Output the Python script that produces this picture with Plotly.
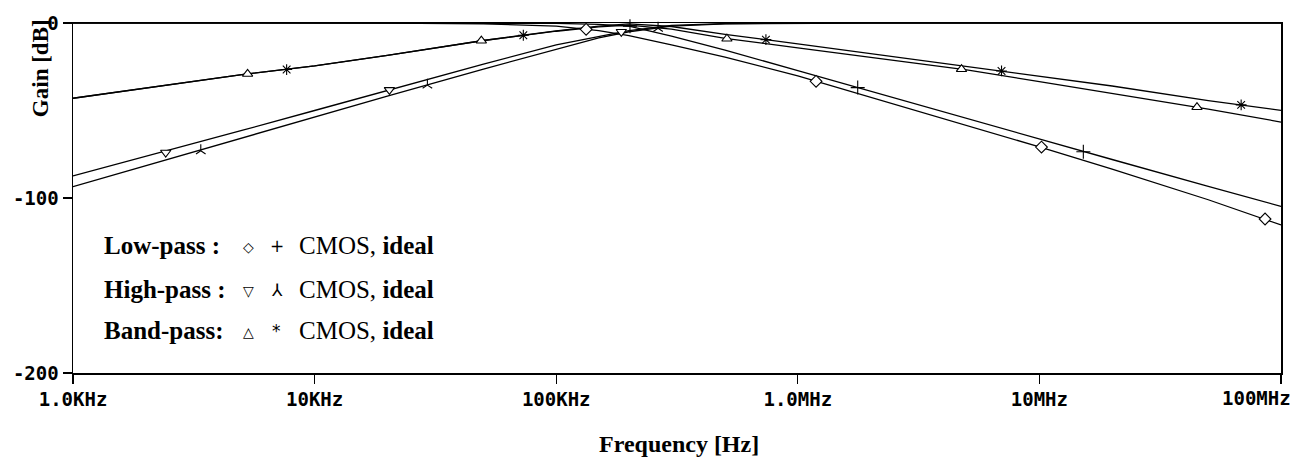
import plotly.graph_objects as go

# ---------------- data ----------------
freq = [1e3, 2e3, 5e3, 1e4, 2e4, 5e4, 1e5, 1.5e5, 2e5, 3e5, 5e5,
        1e6, 2e6, 5e6, 1e7, 2e7, 5e7, 1e8]

lp_cmos = [0, 0, 0, -0.05, -0.1, -0.5, -1.8, -4.4, -7.2, -12.5, -19.5,
           -30.2, -42.3, -58.5, -70.8, -83.5, -101.0, -115.4]
lp_ideal = [0, 0, 0, 0, 0, -0.05, -0.2, -0.8, -1.8, -7.5, -15.5,
            -27.2, -39.0, -54.6, -66.3, -78.0, -93.3, -104.8]
hp_cmos = [-87.4, -76.3, -61.4, -50.0, -38.5, -23.5, -12.5, -7.5, -4.3, -1.3, -0.3,
           -0.05, 0, 0, 0, 0, 0, 0]
hp_ideal = [-93.5, -81.5, -65.8, -53.8, -41.8, -26.3, -14.8, -8.5, -5.0, -1.8, -0.5,
            -0.1, 0, 0, 0, 0, 0, 0]
bp_cmos = [-43.0, -37.3, -29.5, -24.5, -18.5, -10.0, -4.7, -2.2, -1.2, -3.5, -8.8,
           -14.2, -19.8, -26.8, -33.5, -40.2, -49.2, -56.6]
bp_ideal = [-43.0, -37.3, -29.5, -24.5, -18.5, -10.0, -4.5, -1.8, -0.5, -2.0, -6.5,
            -11.9, -17.5, -24.8, -30.3, -36.0, -44.3, -49.9]

# marker positions along each curve
lp_cmos_mk_f = [133e3, 1.19e6, 10.2e6, 85.9e6]
lp_cmos_mk_g = [-3.6, -33.3, -70.9, -112.0]
lp_ideal_mk_f = [202e3, 1.77e6, 15.2e6]
lp_ideal_mk_g = [-1.8, -36.9, -73.6]
hp_cmos_mk_f = [2.42e3, 20.4e3, 186e3]
hp_cmos_mk_g = [-74.0, -38.2, -5.0]
hp_ideal_mk_f = [3.38e3, 29.3e3, 264e3]
hp_ideal_mk_g = [-73.0, -35.5, -3.0]
bp_cmos_mk_f = [5.28e3, 49e3, 509e3, 4.76e6, 44.9e6]
bp_cmos_mk_g = [-29.1, -10.1, -9.0, -26.4, -48.1]
bp_ideal_mk_f = [7.66e3, 73.1e3, 738e3, 6.97e6, 68.4e6]
bp_ideal_mk_g = [-26.6, -7.0, -9.5, -27.4, -46.8]

x_tickvals = [1e3, 1e4, 1e5, 1e6, 1e7, 1e8]
x_ticktext = ["1.0KHz", "10KHz", "100KHz", "1.0MHz", "10MHz", "100MHz"]
y_tickvals = [-200, -100, 0]
y_ticktext = ["-200", "-100", "0"]

legend_rows = [("Low-pass :", "\u25c7", "+"),
               ("High-pass :", "\u25bd", "\u2144"),
               ("Band-pass:", "\u25b3", "*")]
legend_tail = "CMOS, <b>ideal</b>"

# ---------------- figure ----------------
fig = go.Figure()

curves = [lp_cmos, lp_ideal, hp_cmos, hp_ideal, bp_cmos, bp_ideal]
for c in curves:
    fig.add_trace(go.Scatter(x=freq, y=c, mode="lines",
                             line=dict(color="black", width=1.3),
                             hoverinfo="skip"))

markers = [
    (lp_cmos_mk_f, lp_cmos_mk_g, "diamond", 9),
    (lp_ideal_mk_f, lp_ideal_mk_g, "cross-thin", 10),
    (hp_cmos_mk_f, hp_cmos_mk_g, "triangle-down", 9),
    (hp_ideal_mk_f, hp_ideal_mk_g, "y-up", 8),
    (bp_cmos_mk_f, bp_cmos_mk_g, "triangle-up", 9),
    (bp_ideal_mk_f, bp_ideal_mk_g, "asterisk", 9),
]
for f, g, sym, sz in markers:
    fig.add_trace(go.Scatter(x=f, y=g, mode="markers",
                             marker=dict(symbol=sym, size=sz, color="white",
                                         line=dict(color="black", width=1.1)),
                             hoverinfo="skip", cliponaxis=False))

L, R, T, B = 73, 1282, 16, 373
W, H = R - L, B - T


def px(x):
    return (x - L) / W


def py(y):
    return (B - y) / H


serif = "Liberation Serif"
ann = []
row_y = [243, 288, 330]
for (label, s1, s2), yy in zip(legend_rows, row_y):
    ann.append(dict(text="<b>" + label + "</b>", x=px(102), y=py(yy), xanchor="left",
                    yanchor="middle", font=dict(family=serif, size=25, color="black")))
    ann.append(dict(text=s1, x=px(249), y=py(yy + 1), xanchor="center", yanchor="middle",
                    font=dict(family="DejaVu Sans", size=14, color="black")))
    ann.append(dict(text=s2, x=px(277), y=py(yy), xanchor="center", yanchor="middle",
                    font=dict(family="DejaVu Sans", size=17, color="black")))
    ann.append(dict(text=legend_tail, x=px(297), y=py(yy), xanchor="left",
                    yanchor="middle", font=dict(family=serif, size=25, color="black")))

ann.append(dict(text="<b>Gain [dB]</b>", textangle=-90, x=px(40), y=py(62),
                xanchor="center", yanchor="middle",
                font=dict(family=serif, size=23, color="black")))
ann.append(dict(text="<b>Frequency [Hz]</b>", x=px(680), y=py(445),
                xanchor="center", yanchor="middle",
                font=dict(family=serif, size=24, color="black")))
ann.append(dict(text=x_ticktext[-1], x=px(1294), y=py(399),
                xanchor="right", yanchor="middle",
                font=dict(family="DejaVu Sans Mono", size=19, color="black", weight="bold")))

for a in ann:
    a.update(xref="paper", yref="paper", showarrow=False)

tick_font = dict(family="DejaVu Sans Mono", size=19, color="black", weight="bold")
fig.update_layout(
    width=1295, height=465,
    margin=dict(l=L, r=1295 - R, t=T, b=465 - B),
    paper_bgcolor="white", plot_bgcolor="white",
    showlegend=False,
    annotations=ann,
    xaxis=dict(type="log", range=[3, 8], showgrid=False, zeroline=False,
               showline=True, linecolor="black", linewidth=1.5, mirror=True,
               ticks="outside", ticklen=9, tickwidth=1.3, tickcolor="black",
               tickvals=x_tickvals, ticktext=x_ticktext[:-1] + [""],
               tickfont=tick_font),
    yaxis=dict(range=[-200, 0], showgrid=False, zeroline=False,
               showline=True, linecolor="black", linewidth=1.5, mirror=True,
               ticks="outside", ticklen=9, tickwidth=1.3, tickcolor="black",
               tickvals=y_tickvals, ticktext=y_ticktext,
               tickfont=tick_font),
)

fig.write_html("out.html",
               config={"displayModeBar": False, "staticPlot": True},
               post_script="document.body.style.margin='0';"
                           "document.body.style.padding='0';"
                           "document.body.style.overflow='hidden';")
